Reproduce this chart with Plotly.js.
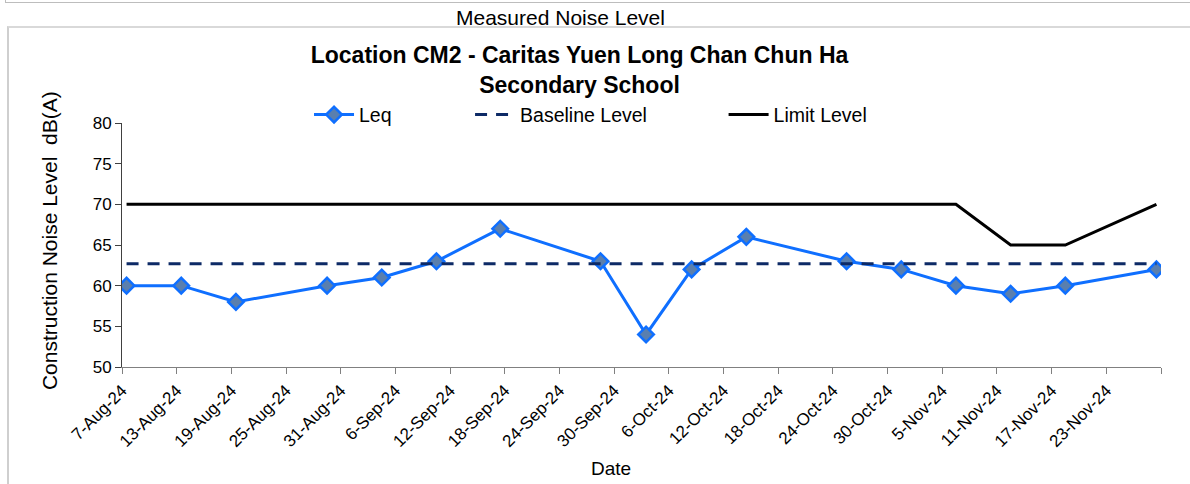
<!DOCTYPE html>
<html>
<head>
<meta charset="utf-8">
<script src="https://cdn.plot.ly/plotly-3.0.1.min.js"></script>
<style>
  html, body { margin: 0; padding: 0; background: #ffffff; }
  #wrap { position: relative; width: 1190px; height: 484px; overflow: hidden; }
  #topline { position: absolute; left: 5px; top: 0px; width: 1185px; height: 2px; border-left: 1px solid #bdbdbd; border-bottom: 1px solid #bdbdbd; }
  #box { position: absolute; left: 7px; top: 26px; width: 1190px; height: 470px; border-left: 2px solid #cfcfcf; border-top: 2px solid #d9d9d9; }
  #chart { position: absolute; left: 0; top: 0; width: 1190px; height: 484px; }
</style>
</head>
<body>
<div id="wrap">
  <div id="topline"></div>
  <div id="box"></div>
  <div id="chart"></div>
</div>
<script>
// Measurement dates and values
const dates = ["2024-08-07","2024-08-13","2024-08-19","2024-08-29","2024-09-04","2024-09-10",
               "2024-09-17","2024-09-28","2024-10-03","2024-10-08","2024-10-14","2024-10-25",
               "2024-10-31","2024-11-06","2024-11-12","2024-11-18","2024-11-28"];
const leq = [60, 60, 58, 60, 61, 63, 67, 63, 54, 62, 66, 63, 62, 60, 59, 60, 62];
const baseline = [62.7, 62.7, 62.7, 62.7, 62.7, 62.7, 62.7, 62.7, 62.7, 62.7, 62.7, 62.7, 62.7, 62.7, 62.7, 62.7, 62.7];
const limit = [70, 70, 70, 70, 70, 70, 70, 70, 70, 70, 70, 70, 70, 70, 65, 65, 70];

// Axis ticks
const tickDates = ["2024-08-07","2024-08-13","2024-08-19","2024-08-25","2024-08-31","2024-09-06",
                   "2024-09-12","2024-09-18","2024-09-24","2024-09-30","2024-10-06","2024-10-12",
                   "2024-10-18","2024-10-24","2024-10-30","2024-11-05","2024-11-11","2024-11-17",
                   "2024-11-23","2024-11-29"];
const tickLabels = ["7-Aug-24","13-Aug-24","19-Aug-24","25-Aug-24","31-Aug-24","6-Sep-24",
                    "12-Sep-24","18-Sep-24","24-Sep-24","30-Sep-24","6-Oct-24","12-Oct-24",
                    "18-Oct-24","24-Oct-24","30-Oct-24","5-Nov-24","11-Nov-24","17-Nov-24",
                    "23-Nov-24",""];

// Excel date axis places each day's point between tick marks (mid-day)
const xs = dates.map(d => d + " 12:00");

const FONT = "Liberation Sans, Arial, sans-serif";
const legFont = { family: FONT, size: 19.5, color: "#000000" };

const traces = [
  {
    x: xs, y: leq, name: "Leq", type: "scatter", mode: "lines+markers", legend: "legend",
    line: { color: "#0f6fff", width: 3 },
    marker: { symbol: "diamond", size: 12, color: "#5a7fae", line: { color: "#0f6fff", width: 2.5 } }
  },
  {
    x: xs, y: baseline, name: "Baseline Level", type: "scatter", mode: "lines", legend: "legend2",
    line: { color: "#0d2a66", width: 3, dash: "12px,9px" }
  },
  {
    x: xs, y: limit, name: "Limit Level", type: "scatter", mode: "lines", legend: "legend3",
    line: { color: "#000000", width: 3 }
  }
];

const legBase = { orientation: "h", xanchor: "left", y: 1.033, yanchor: "middle",
                  font: legFont, bgcolor: "rgba(0,0,0,0)", itemwidth: 40 };

const layout = {
  width: 1190, height: 484,
  margin: { l: 122, r: 29, t: 123, b: 117 },
  paper_bgcolor: "rgba(0,0,0,0)",
  plot_bgcolor: "rgba(0,0,0,0)",
  font: { family: FONT, color: "#000000", size: 16 },
  title: {
    text: "<b>Location CM2 - Caritas Yuen Long Chan Chun Ha<br>Secondary School</b>",
    font: { family: FONT, size: 23, color: "#000000" },
    x: 0.487, xanchor: "center", y: 0.869, yanchor: "top", yref: "container"
  },
  showlegend: true,
  legend: Object.assign({}, legBase, { x: 0.18 }),
  legend2: Object.assign({}, legBase, { x: 0.335 }),
  legend3: Object.assign({}, legBase, { x: 0.579 }),
  xaxis: {
    type: "date",
    range: ["2024-08-07", "2024-11-29"],
    tickmode: "array", tickvals: tickDates, ticktext: tickLabels,
    tickangle: -45,
    tickfont: { family: FONT, size: 17, color: "#000000" },
    ticks: "outside", ticklen: 6, tickcolor: "#808080", tickwidth: 1,
    showline: true, linecolor: "#808080", linewidth: 1,
    showgrid: false, zeroline: false
  },
  yaxis: {
    range: [50, 80], dtick: 5, tick0: 50,
    tickfont: { family: FONT, size: 17, color: "#000000" },
    ticks: "outside", ticklen: 6, tickcolor: "#404040", tickwidth: 1,
    showline: true, linecolor: "#404040", linewidth: 1,
    showgrid: false, zeroline: false
  },
  annotations: [
    { text: "Measured Noise Level", xref: "paper", yref: "paper", x: 0.4216, y: 1.434,
      xanchor: "center", yanchor: "middle", showarrow: false,
      font: { family: FONT, size: 21, color: "#000000" } },
    { text: "Date", xref: "paper", yref: "paper", x: 0.4706, y: -0.418,
      xanchor: "center", yanchor: "middle", showarrow: false,
      font: { family: FONT, size: 19, color: "#000000" } },
    { text: "Construction Noise Level  dB(A)", xref: "paper", yref: "paper", x: -0.0703, y: 0.52,
      xanchor: "center", yanchor: "middle", textangle: -90, showarrow: false,
      font: { family: FONT, size: 21, color: "#000000" } }
  ]
};

Plotly.newPlot("chart", traces, layout, { displayModeBar: false, staticPlot: true });
</script>
</body>
</html>
